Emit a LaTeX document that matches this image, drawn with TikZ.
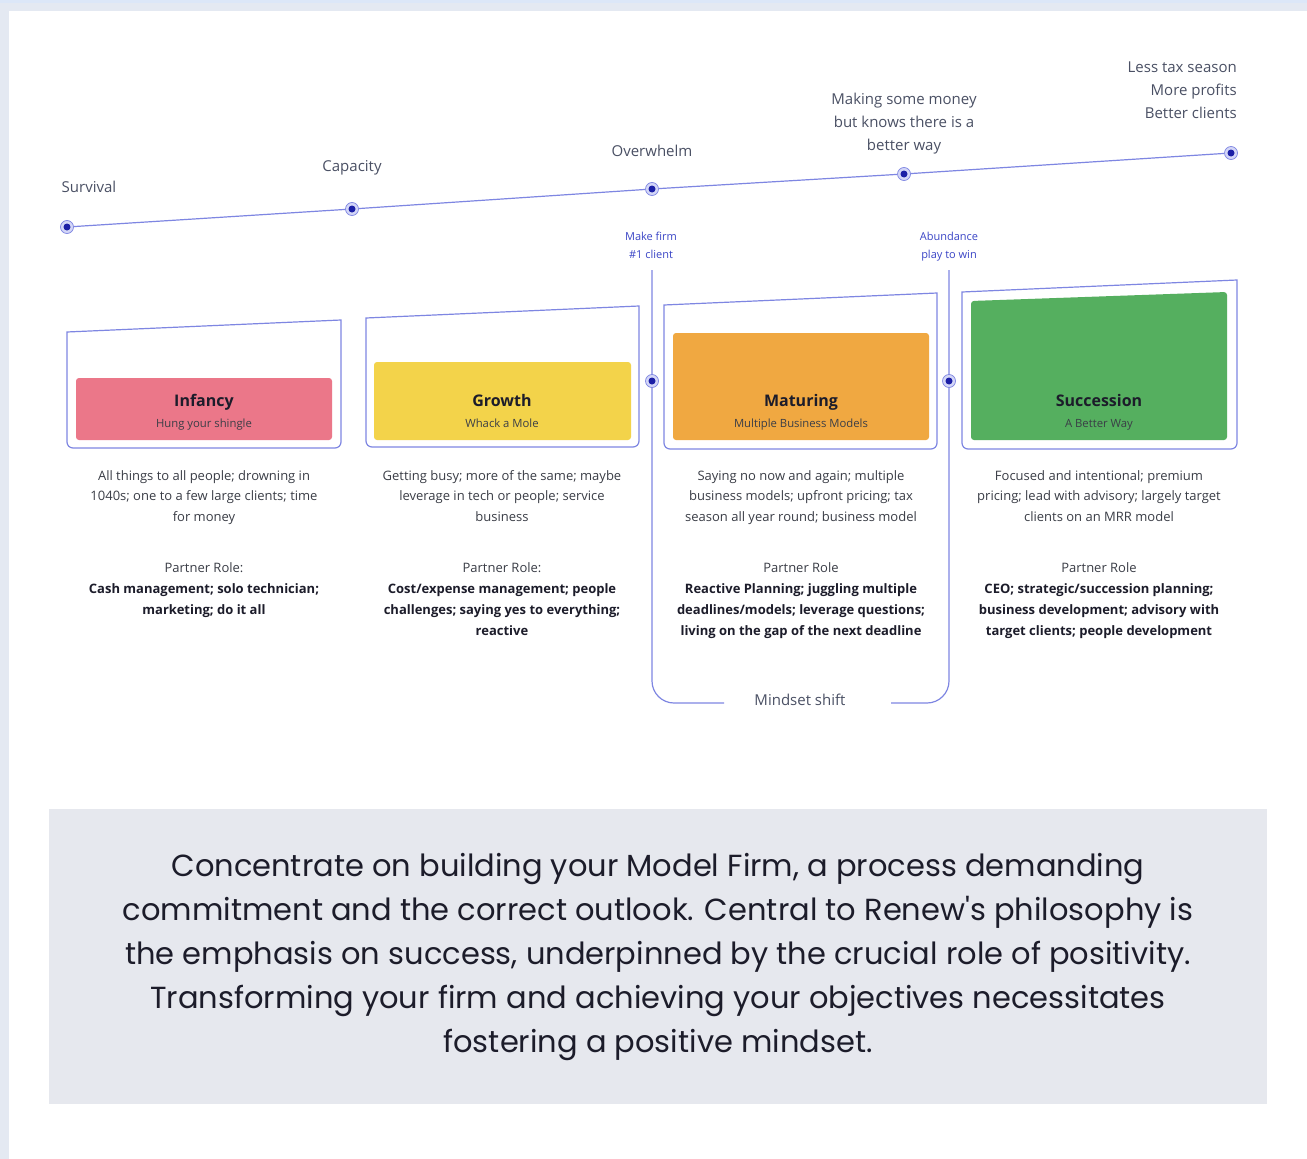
\documentclass[tikz,border=0pt]{standalone}
\usepackage{fontspec}
\setmainfont{Open Sans}
\newfontfamily\parafont{Poppins}
\definecolor{pagebg}{HTML}{E4E9F2}
\definecolor{pagetop}{HTML}{DCE7F8}
\definecolor{linec}{HTML}{7E86E2}
\definecolor{ringc}{HTML}{D3D6F7}
\definecolor{dotc}{HTML}{1B1FA6}
\definecolor{labc}{HTML}{4A5064}
\definecolor{bluelab}{HTML}{3A45C6}
\definecolor{desc}{HTML}{3A3D46}
\definecolor{boldc}{HTML}{1C1C2A}
\definecolor{infc}{HTML}{EB7789}
\definecolor{groc}{HTML}{F3D34A}
\definecolor{matc}{HTML}{F0A841}
\definecolor{succ}{HTML}{55AF5F}
\definecolor{notebg}{HTML}{E6E8EE}
\begin{document}
\begin{tikzpicture}[x=1pt,y=-1pt,
  tl/.style={draw=linec, line width=1.2pt},
  panel/.style={draw=linec, line width=1.2pt},
  tdot/.style={circle, minimum size=13pt, inner sep=0pt, fill=ringc, draw=linec, line width=0.7pt,
    path picture={\fill[dotc] (path picture bounding box.center) circle (3.5pt);}},
  tlab/.style={font=\fontsize{15}{23}\selectfont, text=labc, align=center, inner sep=0pt},
  blab/.style={font=\fontsize{11}{18}\selectfont, text=bluelab, align=center, inner sep=0pt},
  ttl/.style={font=\fontsize{16}{20}\selectfont\bfseries, text=boldc, inner sep=0pt, anchor=base},
  sub/.style={font=\fontsize{11.3}{14}\selectfont, text=desc, inner sep=0pt, anchor=base},
  dtxt/.style={font=\fontsize{13}{20.5}\selectfont, text=desc, align=center, inner sep=0pt, anchor=north},
  rtxt/.style={font=\fontsize{13}{21}\selectfont, text=desc, align=center, inner sep=0pt, anchor=north},
  note/.style={font=\parafont\fontsize{30.5}{44}\selectfont, text=boldc, align=center, inner sep=0pt}
]
\useasboundingbox (0,0) rectangle (1307,1159);
% page frame
\fill[pagebg] (0,0) rectangle (1307,1159);
\fill[pagetop] (0,0) rectangle (1307,3);
\fill[white] (9,11) rectangle (1307,1159);

% ---- timeline ----
\node[tdot] (d1) at (67,227) {};
\node[tdot] (d2) at (352,209) {};
\node[tdot] (d3) at (652,189) {};
\node[tdot] (d4) at (904,174) {};
\node[tdot] (d5) at (1231,153) {};
\draw[tl] (d1) -- (d2);
\draw[tl] (d2) -- (d3);
\draw[tl] (d3) -- (d4);
\draw[tl] (d4) -- (d5);

\node[tlab] (l1) at (89,187) {Survival};
\node[tlab] (l2) at (352,168) {Capacity};
\node[tlab] (l3) at (652,151) {Overwhelm};
\node[tlab, anchor=north] (l4) at (904,93) {Making some money\\but knows there is a\\better way};
\node[tlab, anchor=north east, align=right] (l5) at (1237,62) {Less tax season\\More profits\\Better clients};

% ---- mindset bracket ----
\node[blab, anchor=north] (mk) at (651,232) {Make firm\\\#1 client};
\node[blab, anchor=north] (ab) at (949,232) {Abundance\\play to win};
\coordinate (vl) at (652,270);
\coordinate (vr) at (949,270);
\coordinate (hl) at (724,703);
\coordinate (hr) at (891,703);
\draw[tl, rounded corners=22pt] (vl) -- (652,703) -- (hl);
\draw[tl, rounded corners=22pt] (hr) -- (949,703) -- (vr);
\node[tlab, font=\fontsize{15}{18}\selectfont] (ms) at (800,700) {Mindset shift};
\node[tdot] (m1) at (652,381) {};
\node[tdot] (m2) at (949,381) {};

% ---- stage panels ----
\draw[panel] (67,332) -- (341,320) {[rounded corners=6pt] -- (341,448) -- (67,448)} -- cycle;
\draw[panel] (366,318) -- (639,306) {[rounded corners=6pt] -- (639,447) -- (366,447)} -- cycle;
\draw[panel] (664,305) -- (937,293) {[rounded corners=6pt] -- (937,449) -- (664,449)} -- cycle;
\draw[panel] (962,292) -- (1237,280) {[rounded corners=6pt] -- (1237,449) -- (962,449)} -- cycle;

\fill[infc, rounded corners=3pt] (76,378) rectangle (332,440);
\fill[groc, rounded corners=3pt] (374,362) rectangle (631,440);
\fill[matc, rounded corners=3pt] (673,333) rectangle (929,440);
\fill[succ, rounded corners=3pt] (971,301) -- (1227,292) -- (1227,440) -- (971,440) -- cycle;

\node[ttl] (t1) at (204,406) {Infancy};
\node[sub] (s1) at (204,427) {Hung your shingle};
\node[ttl] (t2) at (502,406) {Growth};
\node[sub] (s2) at (502,427) {Whack a Mole};
\node[ttl] (t3) at (801,406) {Maturing};
\node[sub] (s3) at (801,427) {Multiple Business Models};
\node[ttl] (t4) at (1099,406) {Succession};
\node[sub] (s4) at (1099,427) {A Better Way};

% ---- descriptions ----
\node[dtxt] (x1) at (204,470) {All things to all people; drowning in\\1040s; one to a few large clients; time\\for money};
\node[dtxt] (x2) at (502,470) {Getting busy; more of the same; maybe\\leverage in tech or people; service\\business};
\node[dtxt] (x3) at (801,470) {Saying no now and again; multiple\\business models; upfront pricing; tax\\season all year round; business model};
\node[dtxt] (x4) at (1099,470) {Focused and intentional; premium\\pricing; lead with advisory; largely target\\clients on an MRR model};

\node[rtxt] (r1) at (204,562) {Partner Role:\\\textbf{\color{boldc}Cash management; solo technician;}\\\textbf{\color{boldc}marketing; do it all}};
\node[rtxt] (r2) at (502,562) {Partner Role:\\\textbf{\color{boldc}Cost/expense management; people}\\\textbf{\color{boldc}challenges; saying yes to everything;}\\\textbf{\color{boldc}reactive}};
\node[rtxt] (r3) at (801,562) {Partner Role\\\textbf{\color{boldc}Reactive Planning; juggling multiple}\\\textbf{\color{boldc}deadlines/models; leverage questions;}\\\textbf{\color{boldc}living on the gap of the next deadline}};
\node[rtxt] (r4) at (1099,562) {Partner Role\\\textbf{\color{boldc}CEO; strategic/succession planning;}\\\textbf{\color{boldc}business development; advisory with}\\\textbf{\color{boldc}target clients; people development}};

% ---- closing note ----
\fill[notebg] (49,809) rectangle (1267,1104);
\node[note] (nt) at (658,957) {Concentrate on building your Model Firm, a process demanding\\commitment and the correct outlook. Central to Renew's philosophy is\\the emphasis on success, underpinned by the crucial role of positivity.\\Transforming your firm and achieving your objectives necessitates\\fostering a positive mindset.};
\end{tikzpicture}
\end{document}
